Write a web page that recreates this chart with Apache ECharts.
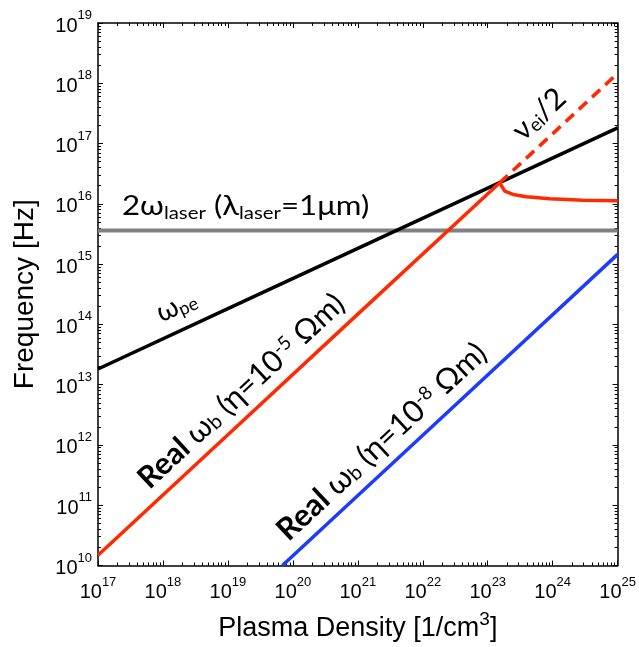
<!DOCTYPE html>
<html>
<head>
<meta charset="utf-8">
<script src="https://cdn.jsdelivr.net/npm/echarts@6/dist/echarts.min.js"></script>
<style>
  html, body { margin: 0; padding: 0; background: #fff; }
  #chart { width: 639px; height: 647px; }
</style>
</head>
<body>
<div id="chart"></div>
<script>
// Axis decades (density in 1/cm^3, frequency in Hz)
const densityDecades = [1e17, 1e18, 1e19, 1e20, 1e21, 1e22, 1e23, 1e24, 1e25];
const frequencyDecades = [1e10, 1e11, 1e12, 1e13, 1e14, 1e15, 1e16, 1e17, 1e18, 1e19];

// Electron plasma frequency
const omegaPeDensity = [1e17, 1e19, 1e21, 1e23, 1e25];
const omegaPeFreq = [1.82e13, 1.82e14, 1.82e15, 1.82e16, 1.82e17];

// Second harmonic of a 1 um laser
const laserDensity = [1e17, 1e25];
const laserFreq = [3.6e15, 3.6e15];

// Real part of omega_b, eta = 1e-5 Ohm m
const realHighEtaDensity = [1e17, 1e19, 1e21, 1.53e23, 1.83e23, 2.45e23, 3.94e23, 9e23, 2.9e24, 1e25];
const realHighEtaFreq = [1.48e10, 1.48e12, 1.48e14, 2.23e16, 1.62e16, 1.43e16, 1.31e16, 1.21e16, 1.15e16, 1.12e16];

// Half the electron-ion collision frequency
const collisionDensity = [1.53e23, 1e25];
const collisionFreq = [2.23e16, 1.46e18];

// Real part of omega_b, eta = 1e-8 Ohm m
const realLowEtaDensity = [6.9e19, 1e22, 1e25];
const realLowEtaFreq = [1e10, 1.45e12, 1.45e15];

const pairs = (xs, ys) => xs.map((x, i) => [x, ys[i]]);

function minorTicks(decades) {
  const out = [];
  for (let i = 0; i < decades.length - 1; i++) {
    for (let k = 2; k <= 9; k++) out.push(k * decades[i]);
  }
  return out;
}

const axisFont = '"Liberation Sans", Arial, Helvetica, sans-serif';
const noteFont = 'Lato, "Open Sans", "DejaVu Sans", sans-serif';
const axisLineStyle = { color: '#000', width: 1.5 };
const tickLineStyle = { color: '#000', width: 1 };

const powerLabel = v => '{b|10}{e|' + Math.round(Math.log10(v)) + '}';
const powerRich = {
  b: { fontSize: 20, lineHeight: 34, fontFamily: axisFont, color: '#000' },
  e: { fontSize: 13, lineHeight: 12, verticalAlign: 'top', fontFamily: axisFont, color: '#000' }
};

function logAxis(kind, position, decades, major, withLabels, extra) {
  const ax = {
    type: 'log',
    logBase: 10,
    position: position,
    min: decades[0],
    max: decades[decades.length - 1],
    axisLine: { show: major, lineStyle: axisLineStyle },
    axisTick: {
      show: true,
      inside: true,
      length: major ? 5 : 3,
      customValues: major ? decades : minorTicks(decades),
      lineStyle: tickLineStyle
    },
    axisLabel: withLabels ? {
      show: true,
      customValues: decades,
      formatter: powerLabel,
      rich: powerRich,
      margin: kind === 'x' ? 10 : 6,
      padding: kind === 'x' ? 0 : [6, 0, 0, 0]
    } : { show: false },
    splitLine: { show: false },
    minorTick: { show: false },
    minorSplitLine: { show: false }
  };
  return Object.assign(ax, extra || {});
}

const chart = echarts.init(document.getElementById('chart'), null, { renderer: 'canvas' });

const option = {
  animation: false,
  backgroundColor: '#fff',
  grid: { left: 98, right: 21, top: 23, bottom: 80, containLabel: false },
  xAxis: [
    logAxis('x', 'bottom', densityDecades, true, true, {
      name: '{n|Plasma Density [1/cm}{sup|3}{n|]}',
      nameLocation: 'middle',
      nameGap: 45,
      nameTextStyle: {
        fontFamily: axisFont, fontSize: 27, color: '#000',
        rich: {
          n: { fontSize: 27, lineHeight: 36, fontFamily: axisFont, color: '#000' },
          sup: { fontSize: 19, lineHeight: 14, verticalAlign: 'top', fontFamily: axisFont, color: '#000' }
        }
      }
    }),
    logAxis('x', 'bottom', densityDecades, false, false),
    logAxis('x', 'top', densityDecades, true, false),
    logAxis('x', 'top', densityDecades, false, false)
  ],
  yAxis: [
    logAxis('y', 'left', frequencyDecades, true, true, {
      name: 'Frequency [Hz]',
      nameLocation: 'middle',
      nameGap: 59,
      nameTextStyle: { fontFamily: axisFont, fontSize: 28, color: '#000' }
    }),
    logAxis('y', 'left', frequencyDecades, false, false),
    logAxis('y', 'right', frequencyDecades, true, false),
    logAxis('y', 'right', frequencyDecades, false, false)
  ],
  series: [
    {
      name: '2ω laser', type: 'line', data: pairs(laserDensity, laserFreq),
      showSymbol: false, symbol: 'none', z: 2,
      lineStyle: { color: '#808080', width: 4 }
    },
    {
      name: 'ω pe', type: 'line', data: pairs(omegaPeDensity, omegaPeFreq),
      showSymbol: false, symbol: 'none', z: 3,
      lineStyle: { color: '#000', width: 3.5 }
    },
    {
      name: 'ν ei / 2', type: 'line', data: pairs(collisionDensity, collisionFreq),
      showSymbol: false, symbol: 'none', z: 4,
      lineStyle: { color: '#ff2a00', width: 3.5, type: [11, 7] }
    },
    {
      name: 'Real ω b (η=1e-5)', type: 'line', data: pairs(realHighEtaDensity, realHighEtaFreq),
      showSymbol: false, symbol: 'none', z: 5, smooth: false,
      lineStyle: { color: '#ff2a00', width: 3.5 }
    },
    {
      name: 'Real ω b (η=1e-8)', type: 'line', data: pairs(realLowEtaDensity, realLowEtaFreq),
      showSymbol: false, symbol: 'none', z: 5,
      lineStyle: { color: '#1e3cff', width: 3.5 }
    }
  ]
};

chart.setOption(option);

// Curve annotations
const noteRich = (size) => ({
  m: { fontSize: size, lineHeight: 30, fontFamily: noteFont, color: '#000' },
  bold: { fontSize: size, lineHeight: 30, fontFamily: noteFont, fontWeight: 'bold', color: '#000' },
  sub: { fontSize: Math.round(size * 0.64), lineHeight: 10, verticalAlign: 'bottom', fontFamily: noteFont, color: '#000' },
  sup: { fontSize: Math.round(size * 0.62), lineHeight: 16, verticalAlign: 'top', fontFamily: noteFont, color: '#000' }
});

function note(text, x, y, deg, size, stretch) {
  return {
    type: 'text',
    x: x, y: y,
    rotation: deg * Math.PI / 180,
    scaleX: stretch || 1,
    z: 10,
    style: {
      text: text,
      rich: noteRich(size),
      align: 'left',
      verticalAlign: 'bottom'
    }
  };
}

chart.setOption({
  graphic: [
    note('{m|2ω}{sub|laser}{m| (λ}{sub|laser}{m|=1μm)}', 122, 222, 0, 26, 1.2),
    note('{m|ω}{sub|pe}', 164, 328, 24.9, 28),
    note('{bold|Real}{m| ω}{sub|b}{m| (η=10}{sup|-5}{m| Ωm)}', 153, 494, 43, 30.5),
    note('{bold|Real}{m| ω}{sub|b}{m| (η=10}{sup|-8}{m| Ωm)}', 292, 546, 43, 31),
    note('{m|ν}{sub|ei}{m|/2}', 527, 146, 43, 30)
  ]
});
</script>
</body>
</html>
